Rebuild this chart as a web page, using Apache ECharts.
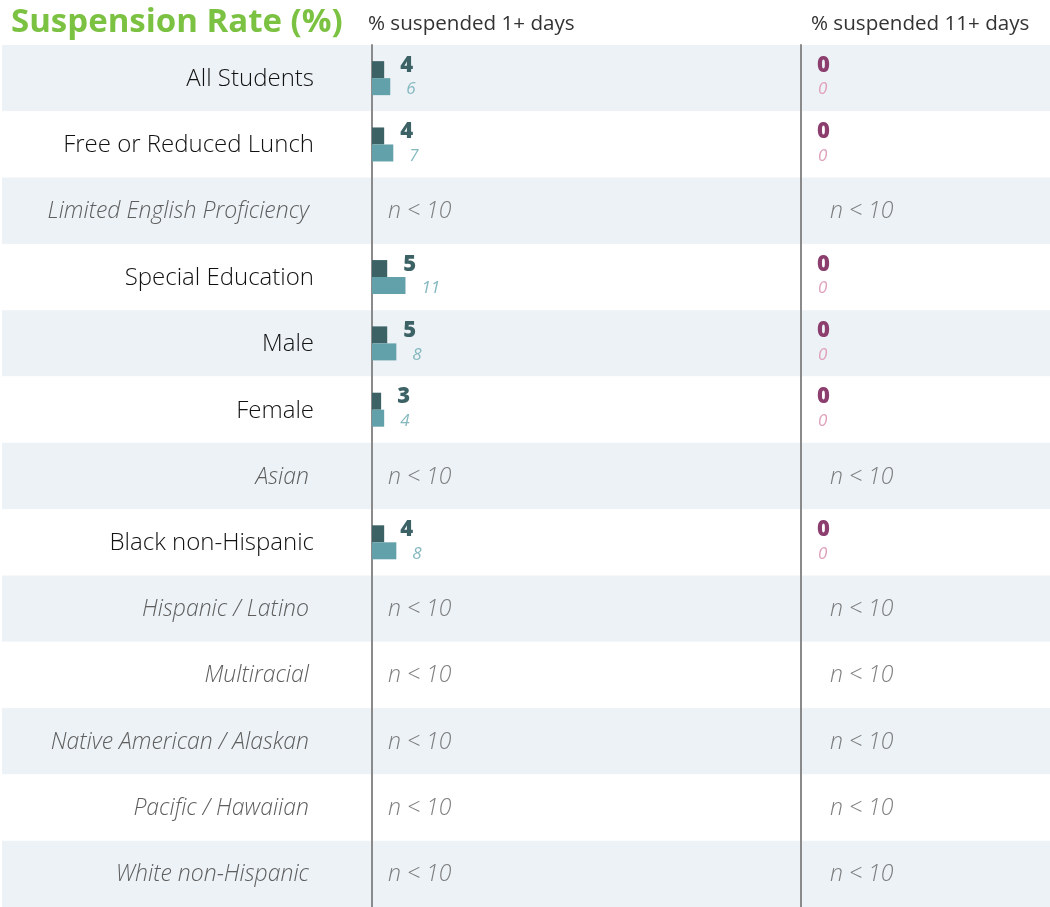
<!DOCTYPE html>
<html>
<head>
<meta charset="utf-8">
<script src="https://cdn.jsdelivr.net/npm/echarts@6/dist/echarts.min.js"></script>
<style>html,body{margin:0;padding:0;background:#fff;}#c{width:1050px;height:907px;}</style>
</head>
<body>
<div id="c"></div>
<script>
const categories = ['All Students','Free or Reduced Lunch','Limited English Proficiency','Special Education','Male','Female','Asian','Black non-Hispanic','Hispanic / Latino','Multiracial','Native American / Alaskan','Pacific / Hawaiian','White non-Hispanic'];
const rate1Primary = [4,4,null,5,5,3,null,4,null,null,null,null,null];
const rate1Compare = [6,7,null,11,8,4,null,8,null,null,null,null,null];
const rate11Primary = [0,0,null,0,0,0,null,0,null,null,null,null,null];
const rate11Compare = [0,0,null,0,0,0,null,0,null,null,null,null,null];
const titleText = 'Suspension Rate (%)';
const panel1Title = '% suspended 1+ days';
const panel11Title = '% suspended 11+ days';
const smallNText = 'n < 10';

const FONT = '"Open Sans", sans-serif';
const suppressed = rate1Primary.map(v => v === null);
const naPoints = categories.filter((c, i) => suppressed[i]).map(c => [0, c]);

const chart = echarts.init(document.getElementById('c'), null, {renderer: 'canvas'});

function barLabelMain(color, dist) {
  return {show: true, position: 'right', distance: dist, offset: [0, -4], color: color,
    fontFamily: FONT, fontWeight: 800, fontSize: 22};
}
function barLabelSub(color, dist) {
  return {show: true, position: 'right', distance: dist, offset: [0, 3], color: color,
    fontFamily: FONT, fontStyle: 'italic', fontWeight: 400, fontSize: 17};
}

const option = {
  animation: false,
  backgroundColor: '#ffffff',
  title: [
    {text: titleText, left: 6, top: 1, textStyle: {color: '#7cc242', fontFamily: FONT, fontWeight: 'bold', fontSize: 33}},
    {text: panel1Title, left: 363, top: 9, textStyle: {color: '#333', fontFamily: FONT, fontWeight: 400, fontSize: 20.6}},
    {text: panel11Title, left: 806, top: 9, textStyle: {color: '#333', fontFamily: FONT, fontWeight: 400, fontSize: 20.6}}
  ],
  grid: [
    {left: 2, right: 0, top: 45, bottom: 0},
    {left: 372, width: 429, top: 45, bottom: 0},
    {left: 801, right: 0, top: 45, bottom: 0}
  ],
  xAxis: [
    {gridIndex: 0, type: 'value', show: false, min: 0, max: 1},
    {gridIndex: 1, type: 'value', show: false, min: 0, max: 141},
    {gridIndex: 2, type: 'value', show: false, min: 0, max: 82}
  ],
  yAxis: [
    {gridIndex: 0, type: 'category', data: categories, inverse: true, z: 0,
      axisLine: {show: false}, axisTick: {show: false}, axisLabel: {show: false},
      splitArea: {show: true, areaStyle: {color: ['#edf2f6', '#ffffff']}}},
    {gridIndex: 1, type: 'category', data: categories, inverse: true, z: 2,
      axisLine: {show: true, lineStyle: {color: '#8a8a8a', width: 2}}, axisTick: {show: false},
      axisLabel: {show: true, margin: 58, fontFamily: FONT,
        formatter: (v, i) => suppressed[i] ? '{na|' + v + '}' : '{ok|' + v + '}',
        rich: {
          ok: {fontFamily: FONT, fontSize: 24, fontWeight: 300, color: '#111111', padding: [2, 0, 0, 0]},
          na: {fontFamily: FONT, fontSize: 23, fontWeight: 300, fontStyle: 'italic', color: '#5e5e5e', padding: [2, 5, 0, 0]}
        }}},
    {gridIndex: 2, type: 'category', data: categories, inverse: true, z: 2,
      axisLine: {show: true, lineStyle: {color: '#8a8a8a', width: 2}}, axisTick: {show: false},
      axisLabel: {show: false}}
  ],
  series: [
    {type: 'bar', xAxisIndex: 1, yAxisIndex: 1, data: rate1Primary, barWidth: 17, barGap: '0%',
      itemStyle: {color: '#3c6265'}, label: barLabelMain('#3c6265', 16)},
    {type: 'bar', xAxisIndex: 1, yAxisIndex: 1, data: rate1Compare, barWidth: 17, barGap: '0%',
      itemStyle: {color: '#62a1a9'}, label: barLabelSub('#84b8bf', 16)},
    {type: 'bar', xAxisIndex: 2, yAxisIndex: 2, data: rate11Primary, barWidth: 17, barGap: '0%',
      itemStyle: {color: '#8c3e6e'}, label: barLabelMain('#8c3e6e', 16)},
    {type: 'bar', xAxisIndex: 2, yAxisIndex: 2, data: rate11Compare, barWidth: 17, barGap: '0%',
      itemStyle: {color: '#e4a9c2'}, label: barLabelSub('#e0a0bc', 17)},
    {type: 'scatter', xAxisIndex: 1, yAxisIndex: 1, data: naPoints, symbolSize: 0,
      label: {show: true, position: 'right', distance: 16, formatter: smallNText, color: '#5e5e5e',
        fontFamily: FONT, fontStyle: 'italic', fontWeight: 300, fontSize: 23, offset: [0, 1]}},
    {type: 'scatter', xAxisIndex: 2, yAxisIndex: 2, data: naPoints, symbolSize: 0,
      label: {show: true, position: 'right', distance: 29, formatter: smallNText, color: '#5e5e5e',
        fontFamily: FONT, fontStyle: 'italic', fontWeight: 300, fontSize: 23, offset: [0, 1]}}
  ]
};
chart.setOption(option);
</script>
</body>
</html>
